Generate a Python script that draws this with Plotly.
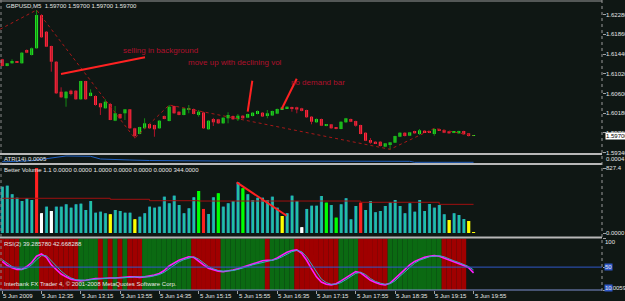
import plotly.graph_objects as go

# ---------------- data ----------------
bars = list(range(97))
opens = [1.61329, 1.61186, 1.61244, 1.61278, 1.61244, 1.61527, 1.61421, 1.61564, 1.62273, 1.61917,
         1.61613, 1.61278, 1.60638, 1.60498, 1.60660, 1.60660, 1.60476, 1.60866, 1.60547, 1.60547,
         1.60391, 1.60284, 1.60376, 1.60020, 1.60163, 1.60178, 1.60263, 1.59858, 1.59736, 1.59858,
         1.59949, 1.59928, 1.59858, 1.60120, 1.60013, 1.60333, 1.60212, 1.60142, 1.60263, 1.60269,
         1.60142, 1.60195, 1.59837, 1.60056, 1.60050, 1.59964, 1.60071, 1.60120, 1.60050, 1.60127,
         1.60084, 1.60120, 1.60163, 1.60191, 1.60120, 1.60131, 1.60170, 1.60269, 1.60284, 1.60306,
         1.60306, 1.60284, 1.60248, 1.60106, 1.59986, 1.60056, 1.59907, 1.59943, 1.59871, 1.59843,
         1.59986, 1.60056, 1.60013, 1.59928, 1.59764, 1.59608, 1.59572, 1.59572, 1.59466, 1.59523,
         1.59551, 1.59678, 1.59764, 1.59700, 1.59800, 1.59736, 1.59807, 1.59800, 1.59736, 1.59843,
         1.59822, 1.59794, 1.59764, 1.59751, 1.59800, 1.59751, 1.59700]
highs = [1.61340, 1.61250, 1.61329, 1.61290, 1.61480, 1.61540, 1.61580, 1.62380, 1.62290, 1.61930,
         1.61620, 1.61290, 1.60732, 1.60650, 1.60680, 1.60670, 1.60870, 1.60870, 1.60689, 1.60560,
         1.60400, 1.60476, 1.60400, 1.60333, 1.60170, 1.60270, 1.60270, 1.59870, 1.59890, 1.60071,
         1.59960, 1.59935, 1.60030, 1.60130, 1.60355, 1.60340, 1.60220, 1.60290, 1.60355, 1.60280,
         1.60248, 1.60212, 1.60030, 1.60080, 1.60060, 1.60090, 1.60200, 1.60130, 1.60163, 1.60135,
         1.60170, 1.60200, 1.60240, 1.60200, 1.60248, 1.60235, 1.60280, 1.60310, 1.60325, 1.60318,
         1.60318, 1.60295, 1.60255, 1.60115, 1.60071, 1.60065, 1.59950, 1.59950, 1.59880, 1.60005,
         1.60080, 1.60065, 1.60020, 1.59935, 1.59770, 1.59650, 1.59580, 1.59580, 1.59545, 1.59565,
         1.59700, 1.59770, 1.59772, 1.59780, 1.59807, 1.59843, 1.59815, 1.59807, 1.59858, 1.59850,
         1.59830, 1.59800, 1.59794, 1.59807, 1.59807, 1.59758, 1.59700]
lows = [1.61180, 1.61180, 1.61240, 1.61250, 1.61240, 1.61460, 1.61410, 1.61560, 1.61790, 1.61590,
        1.61065, 1.60590, 1.60510, 1.60318, 1.60560, 1.60470, 1.60470, 1.60470, 1.60540, 1.60340,
        1.60142, 1.60280, 1.60030, 1.60010, 1.60060, 1.60035, 1.59850, 1.59645, 1.59730, 1.59850,
        1.59850, 1.59678, 1.59850, 1.60050, 1.60005, 1.60170, 1.60135, 1.60135, 1.60178, 1.60155,
        1.60106, 1.59850, 1.59830, 1.59907, 1.59955, 1.59955, 1.59964, 1.60040, 1.60013, 1.60065,
        1.60075, 1.60110, 1.60155, 1.60100, 1.60071, 1.60125, 1.60160, 1.60262, 1.60278, 1.60212,
        1.60178, 1.60220, 1.60085, 1.59943, 1.59977, 1.59905, 1.59900, 1.59850, 1.59837, 1.59837,
        1.59977, 1.59990, 1.59892, 1.59730, 1.59585, 1.59530, 1.59525, 1.59470, 1.59455, 1.59410,
        1.59545, 1.59670, 1.59685, 1.59693, 1.59745, 1.59715, 1.59765, 1.59755, 1.59700, 1.59800,
        1.59755, 1.59745, 1.59755, 1.59745, 1.59722, 1.59685, 1.59700]
closes = [1.61186, 1.61244, 1.61293, 1.61257, 1.61470, 1.61470, 1.61564, 1.62273, 1.61798, 1.61598,
          1.61278, 1.60604, 1.60519, 1.60638, 1.60589, 1.60476, 1.60866, 1.60476, 1.60617, 1.60355,
          1.60306, 1.60425, 1.60035, 1.60178, 1.60071, 1.60263, 1.59858, 1.59693, 1.59885, 1.59964,
          1.59858, 1.59837, 1.60020, 1.60056, 1.60318, 1.60178, 1.60142, 1.60284, 1.60290, 1.60163,
          1.60212, 1.59858, 1.60020, 1.59986, 1.59964, 1.60084, 1.60142, 1.60050, 1.60127, 1.60071,
          1.60163, 1.60191, 1.60227, 1.60110, 1.60178, 1.60227, 1.60269, 1.60301, 1.60318, 1.60280,
          1.60259, 1.60229, 1.60093, 1.59998, 1.60056, 1.59913, 1.59943, 1.59858, 1.59843, 1.59998,
          1.60071, 1.59998, 1.59913, 1.59736, 1.59593, 1.59551, 1.59538, 1.59480, 1.59538, 1.59559,
          1.59693, 1.59764, 1.59693, 1.59772, 1.59751, 1.59815, 1.59772, 1.59764, 1.59843, 1.59807,
          1.59764, 1.59751, 1.59785, 1.59800, 1.59730, 1.59693, 1.59700]

volumes = [589, 602, 493, 449, 407, 442, 420, 827, 251, 335,
           280, 335, 335, 365, 322, 365, 373, 293, 407, 258,
           271, 251, 238, 293, 280, 258, 258, 174, 207, 251,
           335, 322, 335, 462, 378, 475, 356, 251, 314, 454,
           535, 306, 242, 454, 505, 335, 378, 407, 645, 569,
           493, 420, 449, 449, 420, 462, 322, 216, 251, 475,
           407, 73, 306, 347, 347, 471, 386, 356, 195, 365,
           442, 174, 344, 386, 293, 407, 264, 280, 344, 391,
           420, 344, 251, 378, 271, 420, 280, 369, 322, 356,
           238, 165, 251, 229, 178, 153, 12]
vol_red = [7, 41, 73]
vol_white = [8, 10, 61]
vol_yellow = [22, 27, 57, 91, 95, 96]
vol_green = [40, 44, 49, 66, 68]
vol_avg_bar = [0, 22, 30, 40, 73, 89, 96]
vol_avg = [442, 429, 411, 407, 391, 365, 365]

atr_bar = [0, 1, 6, 10, 13, 18, 20, 26, 30, 44, 57, 73, 83, 84, 96]
atr_val = [0.00033, 0.00033, 0.00043, 0.00067, 0.00090, 0.00087, 0.00060, 0.00050, 0.00045,
           0.00040, 0.00040, 0.00040, 0.00037, 0.00027, 0.00027]

rsi = [60, 53, 49, 46, 46, 51, 58, 69, 73, 67, 54, 46, 38, 33, 29, 27, 26, 27, 29, 30,
       30, 31, 31, 31, 32, 32, 33, 33, 32, 33, 34, 36, 39, 44, 52, 57, 62, 65, 68, 67,
       60, 54, 48, 45, 43, 42, 43, 45, 47, 50, 53, 55, 58, 61, 62, 62, 66, 71, 76, 79,
       80, 74, 62, 47, 33, 24, 20, 19, 21, 26, 31, 37, 42, 40, 33, 27, 23, 20, 19, 22,
       30, 38, 47, 54, 60, 64, 67, 69, 70, 69, 66, 62, 59, 56, 53, 49, 40]
rsi_signal = [63, 57, 51, 48, 46, 48, 54, 63, 70, 70, 61, 51, 43, 36, 31, 28, 27, 27, 28, 29,
              30, 30, 31, 31, 31, 32, 32, 33, 33, 33, 33, 35, 37, 41, 47, 54, 59, 63, 66, 68,
              64, 57, 51, 47, 44, 43, 43, 44, 46, 48, 51, 54, 56, 59, 61, 62, 64, 68, 73, 77,
              79, 77, 68, 55, 40, 29, 23, 20, 20, 23, 28, 34, 39, 41, 37, 30, 25, 22, 20, 21,
              26, 34, 42, 50, 57, 62, 65, 68, 69, 70, 68, 64, 61, 58, 55, 51, 45]
rsi_state = ("RRRRGGGGRRRRRRRRGGGGRGRGRGRRRGGGGGGGGGGRRRRRRGGGGGGGGGRGGGGG"
             "RRRRRRRRRGGGGRRRRRRGGGGGGGGGGGRRRRR")
rsi_min, rsi_max = 10.0059, 100.0
rsi_level = 50

zz_bar = [-0.45, 7, 27, 34, 79, 88, 96]
zz_price = [1.61969, 1.62380, 1.59645, 1.60355, 1.59410, 1.59858, 1.59700]

notes_text = ["selling in background", "move up with declining vol", "no demand bar"]
notes_bar = [24.3, 37.6, 58.6]
notes_price = [1.61527, 1.61256, 1.60830]

arrow_bar0 = [11.98, 50.0, 56.92]
arrow_p0 = [1.61015, 1.60212, 1.60269]
arrow_bar1 = [29.08, 50.94, 59.98]
arrow_p1 = [1.61371, 1.60872, 1.60915]
vol_arrow_bar = [47.76, 57.94]
vol_arrow_val = [645, 220]

price_ticks = [1.62280, 1.61860, 1.61440, 1.61020, 1.60600, 1.60180, 1.59760, 1.59340]
last_price = 1.59700
time_ticks = [0, 8, 16, 24, 32, 40, 48, 56, 64, 72, 80, 88, 96]
time_labels = ["5 Jun 2009", "5 Jun 12:35", "5 Jun 13:15", "5 Jun 13:55", "5 Jun 14:35",
               "5 Jun 15:15", "5 Jun 15:55", "5 Jun 16:35", "5 Jun 17:15", "5 Jun 17:55",
               "5 Jun 18:35", "5 Jun 19:15", "5 Jun 19:55"]

title_text = "GBPUSD,M5  1.59700 1.59700 1.59700 1.59700"
atr_text = "ATR(14) 0.0005"
vol_text = "Better Volume 1.1 0.0000 0.0000 1.0000 0.0000 0.0000 0.0000 344.0000"
rsi_text = "RSI(2) 39.285780 42.668288"
copy_text = "Interbank FX Trader 4, \u00a9 2001-2008 MetaQuotes Software Corp."

# ---------------- style ----------------
W, H = 625, 301
PW = 602
BG = "#0f1714"
BULL = "#22e622"
BEAR = "#ff2b3c"
BULL_WICK = "#138a13"
BEAR_WICK = "#b3122a"
TXT = "#e6e6e6"
FONT = "Liberation Sans, Arial, sans-serif"
SEP = "#b8b8b8"


def py(p):
    return (H - p) / H


def px(p):
    return p / PW


fig = go.Figure()

# wicks
for bull in (True, False):
    xs, ys = [], []
    for i in bars:
        if (closes[i] >= opens[i]) == bull:
            xs += [i, i, None]
            ys += [lows[i], highs[i], None]
    fig.add_trace(go.Scatter(x=xs, y=ys, mode="lines", hoverinfo="skip",
                             line=dict(color=BULL_WICK if bull else BEAR_WICK, width=1),
                             xaxis="x", yaxis="y"))

# bodies
bmin = 0.00012
base, hgt, bcol = [], [], []
for o, c in zip(opens, closes):
    lo, hi = min(o, c), max(o, c)
    if hi - lo < bmin:
        m = (hi + lo) / 2
        lo, hi = m - bmin / 2, m + bmin / 2
    base.append(lo)
    hgt.append(hi - lo)
    bcol.append(BULL if c >= o else BEAR)
fig.add_trace(go.Bar(x=bars, y=hgt, base=base, width=0.62, hoverinfo="skip",
                     marker=dict(color=bcol, line=dict(width=0)), xaxis="x", yaxis="y"))

# zigzag
fig.add_trace(go.Scatter(x=zz_bar, y=zz_price, mode="lines", hoverinfo="skip",
                         line=dict(color="#a81818", width=1, dash="dot"), xaxis="x", yaxis="y"))

# ATR
fig.add_trace(go.Scatter(x=atr_bar, y=atr_val, mode="lines", hoverinfo="skip",
                         line=dict(color="#2262c4", width=1), xaxis="x", yaxis="y2"))

# volume
special = {}
for i in vol_red:
    special[i] = "#ff2020"
for i in vol_white:
    special[i] = "#ffffff"
for i in vol_yellow:
    special[i] = "#ffff00"
for i in vol_green:
    special[i] = "#00ff00"
back_col = [special.get(i, "#1e60b4") for i in bars]
front_col = [special.get(i, "#22c0a4") for i in bars]
fig.add_trace(go.Bar(x=bars, y=volumes, width=0.62, offset=-0.31, hoverinfo="skip",
                     marker=dict(color=back_col, line=dict(width=0)), xaxis="x", yaxis="y3"))
fig.add_trace(go.Bar(x=bars, y=volumes, width=0.5, offset=-0.19, hoverinfo="skip",
                     marker=dict(color=front_col, line=dict(width=0)), xaxis="x", yaxis="y3"))
fig.add_trace(go.Scatter(x=vol_avg_bar, y=vol_avg, mode="lines", line_shape="hv", hoverinfo="skip",
                         line=dict(color="#a01010", width=1), xaxis="x", yaxis="y3"))

# RSI background bands
band_x = list(range(len(rsi_state)))
band_col = ["#a00000" if s == "R" else "#0b6a12" for s in rsi_state]
fig.add_trace(go.Bar(x=band_x, y=[rsi_max - rsi_min] * len(band_x), base=rsi_min, width=1.0,
                     hoverinfo="skip", marker=dict(color=band_col, line=dict(width=0)),
                     xaxis="x", yaxis="y4"))
fig.add_trace(go.Scatter(x=bars, y=rsi, mode="lines", hoverinfo="skip",
                         line=dict(color="#ff1cff", width=1.6), xaxis="x", yaxis="y4"))
fig.add_trace(go.Scatter(x=bars, y=rsi_signal, mode="lines", hoverinfo="skip",
                         line=dict(color="#3aa6c8", width=1), xaxis="x", yaxis="y4"))

# ---------------- layout ----------------
ax_common = dict(showgrid=False, zeroline=False, fixedrange=True)
fig.update_layout(
    width=W, height=H, margin=dict(l=0, r=W - PW, t=0, b=0),
    paper_bgcolor=BG, plot_bgcolor=BG, showlegend=False, barmode="overlay",
    font=dict(family=FONT, size=6, color=TXT),
    xaxis=dict(domain=[0, 1], range=[-0.448, 122.16], anchor="y4", ticks="outside", ticklen=3,
               tickcolor="#a0a0a0", tickvals=time_ticks, showticklabels=False, showline=False,
               **ax_common),
    yaxis=dict(domain=[py(153), py(2)], range=[1.593314, 1.625508], side="right", anchor="x",
               ticks="outside", ticklen=3, tickcolor="#a0a0a0", tickvals=price_ticks,
               showticklabels=False, **ax_common),
    yaxis2=dict(domain=[py(163), py(155)], range=[0.0002, 0.0010], side="right", anchor="x",
                showticklabels=False, ticks="", **ax_common),
    yaxis3=dict(domain=[py(236), py(165)], range=[-38.2, 865.6], side="right", anchor="x",
                ticks="outside", ticklen=3, tickcolor="#a0a0a0", tickvals=[0, 827.4],
                showticklabels=False, **ax_common),
    yaxis4=dict(domain=[py(290), py(238.5)], range=[rsi_min, rsi_max], side="right", anchor="x",
                ticks="outside", ticklen=3, tickcolor="#a0a0a0", tickvals=[rsi_max, rsi_level, rsi_min],
                showticklabels=False, **ax_common),
)

shapes = []
# window separators / borders
for yy, col, w in [(1, "#9a9a9a", 1), (154, SEP, 2), (164, SEP, 2), (237.5, SEP, 2)]:
    shapes.append(dict(type="line", xref="paper", yref="paper", x0=0, x1=1, y0=py(yy), y1=py(yy),
                       line=dict(color=col, width=w)))
shapes.append(dict(type="line", xref="paper", yref="paper", x0=px(1), x1=px(1), y0=py(0), y1=py(290),
                   line=dict(color="#8a8a8a", width=1, dash="dot")))
shapes.append(dict(type="line", xref="paper", yref="paper", x0=1, x1=1, y0=py(0), y1=py(291),
                   line=dict(color="#9a9a9a", width=1, dash="dot")))
# RSI level lines
shapes.append(dict(type="line", xref="paper", yref="y4", x0=0, x1=1, y0=rsi_level, y1=rsi_level,
                   line=dict(color="#3058c8", width=1)))
shapes.append(dict(type="line", xref="paper", yref="paper", x0=0, x1=1, y0=py(290), y1=py(290),
                   line=dict(color="#7f90d0", width=1)))
# drawn arrows
for x0, p0, x1, p1 in zip(arrow_bar0, arrow_p0, arrow_bar1, arrow_p1):
    shapes.append(dict(type="line", xref="x", yref="y", x0=x0, y0=p0, x1=x1, y1=p1,
                       line=dict(color="#ff2222", width=2)))
shapes.append(dict(type="line", xref="x", yref="y3", x0=vol_arrow_bar[0], y0=vol_arrow_val[0],
                   x1=vol_arrow_bar[1], y1=vol_arrow_val[1], line=dict(color="#ff2222", width=2)))

ann = []


def txt(x, y, s, xref="paper", yref="paper", color=TXT, size=6, xanchor="left", bg=None, **kw):
    d = dict(x=x, y=y, xref=xref, yref=yref, text=s, showarrow=False, xanchor=xanchor,
             yanchor="middle", font=dict(family=FONT, size=size, color=color), borderpad=0)
    if bg:
        d["bgcolor"] = bg
    d.update(kw)
    ann.append(d)


txt(px(5), py(6.5), title_text)
txt(px(3), py(159), atr_text)
txt(px(3), py(170), vol_text)
txt(px(3), py(244), rsi_text)
txt(px(3), py(284), copy_text)

for t, b, p in zip(notes_text, notes_bar, notes_price):
    txt(b, p, t, xref="x", yref="y", color="#b0102c", size=8)

# right-hand labels (the 1.59760 label sits under the current-price box, as in MT4)
for p in price_ticks:
    if abs(p - last_price) > 0.0002:
        txt(px(605), p, "%.5f" % p, yref="y")
    else:
        txt(px(605), p + 0.0001, "%.5f" % p, yref="y")
txt(px(605), last_price, "%.5f" % last_price, yref="y", color="#000000", bg="#ffffff")
txt(px(605), py(159), "0.0004")
txt(px(605), 827.4, "827.4", yref="y3")
txt(px(605), py(233), "0.0000")
txt(px(604), py(242), "100")
txt(px(604), rsi_level, "50", yref="y4", bg="#2f58c8")
txt(px(604), py(287.5), "10", bg="#2f58c8")
txt(px(610), py(287.5), ".0059")

for b, s in zip(time_ticks, time_labels):
    txt(b, py(296), s, xref="x", xshift=0)

fig.update_layout(shapes=shapes, annotations=ann)
fig.write_html("out.html")
